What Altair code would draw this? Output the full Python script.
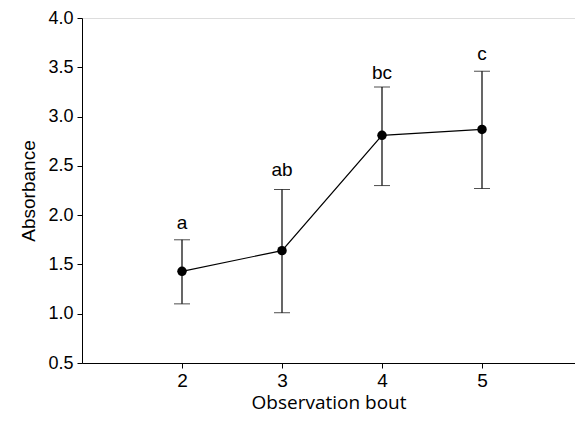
import altair as alt
import pandas as pd

bouts = [2, 3, 4, 5]
means = [1.43, 1.64, 2.81, 2.87]
upper = [1.75, 2.26, 3.30, 3.46]
lower = [1.10, 1.01, 2.30, 2.27]
letters = ["a", "ab", "bc", "c"]
letter_y = [1.86, 2.40, 3.38, 3.57]

df = pd.DataFrame({"bout": bouts, "mean": means, "hi": upper, "lo": lower,
                   "letter": letters, "ly": letter_y})

xscale = alt.Scale(domain=[1, 5.93], nice=False, zero=False)
yscale = alt.Scale(domain=[0.5, 4.0], nice=False, zero=False)

xaxis = alt.Axis(title="Observation bout", values=[2, 3, 4, 5], format="d",
                 labelFont="Liberation Sans", labelFontSize=19, titleFont="Open Sans",
                 titleFontSize=19, titleFontWeight="normal", titleColor="black",
                 labelColor="black", domainColor="black", tickColor="black",
                 tickSize=5, grid=False, labelPadding=3, titlePadding=3)
yaxis = alt.Axis(title="Absorbance", values=[0.5, 1, 1.5, 2, 2.5, 3, 3.5, 4], format=".1f",
                 labelFont="Liberation Sans", labelFontSize=18, titleFont="Liberation Sans",
                 titleFontSize=19, titleFontWeight="normal", titleColor="black",
                 labelColor="black", domainColor="black", tickColor="black",
                 tickSize=5, grid=False, labelPadding=4, titlePadding=9)

base = alt.Chart(df)

err = base.mark_errorbar(ticks=alt.MarkConfig(size=16, color="black", strokeWidth=1.2),
                         color="black", rule=alt.MarkConfig(strokeWidth=1.2)).encode(
    x=alt.X("bout:Q", scale=xscale, axis=xaxis),
    y=alt.Y("lo:Q", scale=yscale, axis=yaxis),
    y2="hi:Q",
)

line = base.mark_line(color="black", strokeWidth=1.2).encode(
    x=alt.X("bout:Q", scale=xscale),
    y=alt.Y("mean:Q", scale=yscale),
)

pts = base.mark_circle(color="black", size=90, opacity=1).encode(
    x=alt.X("bout:Q", scale=xscale),
    y=alt.Y("mean:Q", scale=yscale),
)

txt = base.mark_text(font="Liberation Sans", fontSize=19, baseline="alphabetic",
                     align="center", color="black").encode(
    x=alt.X("bout:Q", scale=xscale),
    y=alt.Y("ly:Q", scale=yscale),
    text="letter:N",
)

chart = alt.layer(err, line, pts, txt).properties(
    width=493, height=345,
    autosize=alt.AutoSizeParams(type="none"),
    padding={"left": 74, "top": 10, "right": 0, "bottom": 50},
).configure_view(stroke=None).configure(background="white")

chart.save("out.html", embed_options={"renderer": "svg", "actions": False})
